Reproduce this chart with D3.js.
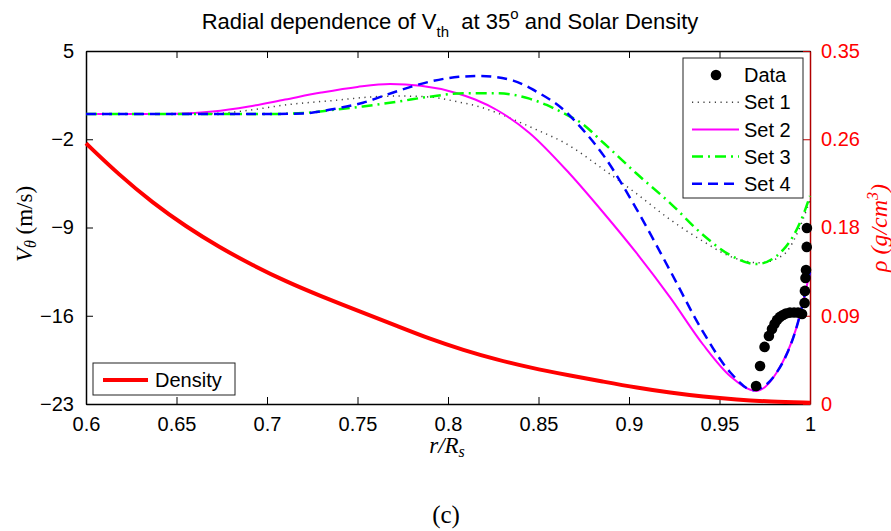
<!DOCTYPE html>
<html>
<head>
<meta charset="utf-8">
<script src="https://cdn.jsdelivr.net/npm/d3@7/dist/d3.min.js"></script>
<style>
  body { margin: 0; background: #fff; }
  svg { display: block; }
  .tick-label { font-family: 'Liberation Sans', Arial, sans-serif; font-size: 20px; }
</style>
</head>
<body>
<div id="chart"></div>
<script>
// r / R_s vs V_theta (m/s)
var set1 = [[0.60, 0.0], [0.64, 0.0], [0.67, 0.03], [0.69, 0.3], [0.71, 0.72], [0.74, 1.12], [0.755, 1.33],
            [0.772, 1.43], [0.79, 1.35], [0.805, 0.98], [0.818, 0.55], [0.827, 0.1], [0.838, -0.55],
            [0.849, -1.25], [0.864, -2.25], [0.886, -4.4], [0.904, -6.3], [0.923, -8.4], [0.941, -10.1],
            [0.956, -11.3], [0.972, -11.8], [0.985, -11.2], [0.996, -8.4], [1.0, -6.8]];
var set2 = [[0.60, 0.0], [0.64, 0.0], [0.65, 0.02], [0.67, 0.2], [0.69, 0.6], [0.71, 1.15], [0.73, 1.7],
            [0.75, 2.15], [0.768, 2.38], [0.785, 2.24], [0.805, 1.65], [0.815, 1.15], [0.827, 0.32],
            [0.845, -1.5], [0.867, -4.7], [0.886, -7.85], [0.904, -11.0], [0.923, -14.6], [0.941, -18.3],
            [0.956, -20.8], [0.9705, -21.96], [0.9816, -20.5], [0.9926, -16.9], [1.0, -12.5]];
var set3 = [[0.60, 0.0], [0.70, 0.0], [0.72, 0.08], [0.738, 0.35], [0.753, 0.6], [0.772, 0.98],
            [0.79, 1.38], [0.8085, 1.65], [0.827, 1.65], [0.845, 1.22], [0.8545, 0.72], [0.8637, 0.08],
            [0.873, -0.65], [0.886, -2.3], [0.904, -4.7], [0.923, -7.1], [0.941, -9.6], [0.956, -11.2],
            [0.9705, -11.9], [0.985, -10.8], [0.996, -8.1], [1.0, -6.5]];
var set4 = [[0.60, 0.0], [0.70, 0.0], [0.72, 0.05], [0.737, 0.4], [0.753, 0.9], [0.771, 1.77],
            [0.79, 2.57], [0.806, 2.95], [0.8177, 3.02], [0.836, 2.65], [0.849, 1.77], [0.864, 0.32],
            [0.873, -1.0], [0.886, -3.3], [0.904, -7.5], [0.923, -12.5], [0.941, -17.3], [0.956, -20.5],
            [0.9685, -21.9], [0.9816, -20.5], [0.9926, -16.9], [1.0, -12.5]];
var dataPts = [[0.9702, -21.57], [0.9724, -19.98], [0.9749, -18.47], [0.9773, -17.6], [0.979, -17.05],
               [0.9804, -16.65], [0.9818, -16.33], [0.9834, -16.09], [0.9851, -15.94], [0.9867, -15.82],
               [0.9889, -15.75], [0.9912, -15.74], [0.9934, -15.75], [0.9956, -15.86], [0.997, -14.98],
               [0.9972, -14.03], [0.9975, -13.0], [0.9978, -12.37], [0.9982, -10.54], [0.9983, -9.04]];
// r / R_s vs solar density (g/cm^3)
var density = [[0.6, 0.2585], [0.6184, 0.227], [0.6368, 0.1995], [0.6552, 0.176], [0.6736, 0.1555],
               [0.6921, 0.1375], [0.7105, 0.1215], [0.7289, 0.1075], [0.7532, 0.0905], [0.7717, 0.0775],
               [0.7901, 0.0645], [0.8085, 0.0535], [0.8269, 0.044], [0.8453, 0.036], [0.8674, 0.0283],
               [0.8858, 0.0222], [0.9043, 0.0162], [0.9227, 0.0112], [0.9411, 0.0072], [0.9595, 0.0043],
               [0.9779, 0.0023], [1.0, 0.0012]];

var xTicks = [0.6, 0.65, 0.7, 0.75, 0.8, 0.85, 0.9, 0.95, 1];
var xTickLabels = ['0.6', '0.65', '0.7', '0.75', '0.8', '0.85', '0.9', '0.95', '1'];
var yTicks = [5, -2, -9, -16, -23];
var rhoTicks = [0, 0.0875, 0.175, 0.2625, 0.35];
var rhoTickLabels = ['0', '0.09', '0.18', '0.26', '0.35'];
var legendNames = ['Data', 'Set 1', 'Set 2', 'Set 3', 'Set 4'];

var margin = {top: 51, right: 81, bottom: 127, left: 86},
    width = 891 - margin.left - margin.right,
    height = 531 - margin.top - margin.bottom;

var svg = d3.select('#chart').append('svg')
    .attr('width', 891)
    .attr('height', 531);

var wrapper = svg.append('g')
    .attr('transform', 'translate(' + margin.left + ',' + margin.top + ')');

var xScale = d3.scaleLinear().domain([0.6, 1]).range([0, width]),
    yScale = d3.scaleLinear().domain([-23, 5]).range([height, 0]),
    rhoScale = d3.scaleLinear().domain([0, 0.35]).range([height, 0]);

var minus = function(v) { return String(v).replace('-', '\u2212'); };
var tickLen = 7;

// axes (MATLAB style: ticks pointing inside)
var xAxis = wrapper.append('g')
    .attr('transform', 'translate(0,' + height + ')')
    .call(d3.axisBottom(xScale).tickValues(xTicks).tickSizeInner(-tickLen).tickSizeOuter(0)
      .tickPadding(tickLen + 6).tickFormat(function(d, i) { return xTickLabels[i]; }));
xAxis.selectAll('text').attr('class', 'tick-label').attr('fill', '#000');

wrapper.append('g')
    .call(d3.axisTop(xScale).tickValues(xTicks).tickSizeInner(-tickLen).tickSizeOuter(0).tickFormat(''));

var yAxis = wrapper.append('g')
    .call(d3.axisLeft(yScale).tickValues(yTicks).tickSizeInner(-tickLen).tickSizeOuter(0)
      .tickPadding(tickLen + 5).tickFormat(minus));
yAxis.selectAll('text').attr('class', 'tick-label').attr('fill', '#000');

var rAxis = wrapper.append('g')
    .attr('transform', 'translate(' + width + ',0)')
    .call(d3.axisRight(rhoScale).tickValues(rhoTicks).tickSizeInner(-tickLen).tickSizeOuter(0)
      .tickPadding(tickLen + 4).tickFormat(function(d, i) { return rhoTickLabels[i]; }));
rAxis.selectAll('text').attr('class', 'tick-label').attr('fill', '#ff0000');
rAxis.selectAll('line').attr('stroke', '#c00000');
rAxis.select('.domain').attr('stroke', '#b00000').attr('stroke-width', 1.5);

svg.selectAll('.domain').filter(function() { return d3.select(this).attr('stroke') === 'currentColor'; })
    .attr('stroke', '#000').attr('stroke-width', 1.5);

var line = d3.line()
    .x(function(d) { return xScale(d[0]); })
    .y(function(d) { return yScale(d[1]); })
    .curve(d3.curveMonotoneX);

var rhoLine = d3.line()
    .x(function(d) { return xScale(d[0]); })
    .y(function(d) { return rhoScale(d[1]); })
    .curve(d3.curveBasis);

var styles = [
  {data: set1, color: '#000', width: 1.5, dash: '1.2,4.5', opacity: 0.75},
  {data: set2, color: '#ff00ff', width: 2, dash: null, opacity: 1},
  {data: set3, color: '#00ff00', width: 2.5, dash: '11,5,2,5', opacity: 1},
  {data: set4, color: '#0000ff', width: 2.5, dash: '10,6', opacity: 1}
];

var plot = wrapper.append('g');

plot.append('path')
    .attr('d', rhoLine(density))
    .attr('fill', 'none')
    .attr('stroke', '#ff0000')
    .attr('stroke-width', 4);

styles.forEach(function(s) {
  plot.append('path')
      .attr('d', line(s.data))
      .attr('fill', 'none')
      .attr('stroke', s.color)
      .attr('stroke-width', s.width)
      .attr('stroke-dasharray', s.dash)
      .attr('stroke-opacity', s.opacity);
});

plot.selectAll('.dot')
    .data(dataPts)
  .enter().append('circle')
    .attr('class', 'dot')
    .attr('r', 5.3)
    .attr('cx', function(d) { return xScale(d[0]); })
    .attr('cy', function(d) { return yScale(d[1]); })
    .attr('fill', '#000');

// Legend, top right
var legend = svg.append('g').attr('transform', 'translate(683,58)');
legend.append('rect')
    .attr('width', 120).attr('height', 140)
    .attr('fill', '#fff').attr('stroke', '#222').attr('stroke-width', 1);

legendNames.forEach(function(name, i) {
  var y = 17 + i * 27.2;
  if (i === 0) {
    legend.append('circle').attr('cx', 33).attr('cy', y).attr('r', 5.3).attr('fill', '#000');
  } else {
    var s = styles[i - 1];
    legend.append('line')
        .attr('x1', 9).attr('x2', 56).attr('y1', y).attr('y2', y)
        .attr('stroke', s.color).attr('stroke-width', s.width)
        .attr('stroke-dasharray', s.dash).attr('stroke-opacity', s.opacity);
  }
  legend.append('text')
      .attr('class', 'tick-label')
      .attr('x', 61).attr('y', y).attr('dy', '0.36em')
      .text(name);
});

// Legend, bottom left
var legend2 = svg.append('g').attr('transform', 'translate(93,363)');
legend2.append('rect')
    .attr('width', 142).attr('height', 32)
    .attr('fill', '#fff').attr('stroke', '#222').attr('stroke-width', 1);
legend2.append('line')
    .attr('x1', 10).attr('x2', 55).attr('y1', 17).attr('y2', 17)
    .attr('stroke', '#ff0000').attr('stroke-width', 4);
legend2.append('text')
    .attr('class', 'tick-label')
    .attr('x', 62).attr('y', 17).attr('dy', '0.36em')
    .text('Density');

// Title
var title = svg.append('text')
    .attr('x', 450).attr('y', 29)
    .attr('text-anchor', 'middle')
    .style('font-family', "'Liberation Sans', Arial, sans-serif")
    .style('font-size', '22px');
title.append('tspan').text('Radial dependence of V');
title.append('tspan').attr('dy', 8).style('font-size', '15px').text('th');
title.append('tspan').attr('dy', -8).text('\u00a0 at 35');
title.append('tspan').attr('dy', -10).style('font-size', '15px').text('o');
title.append('tspan').attr('dy', 10).text(' and Solar Density');

// Axis labels
var serif = "'Liberation Serif', 'DejaVu Serif', serif";
var yLabel = svg.append('text')
    .attr('transform', 'translate(32,224) rotate(-90)')
    .attr('text-anchor', 'middle')
    .style('font-family', serif)
    .style('font-size', '23px');
yLabel.append('tspan').style('font-style', 'italic').text('V');
yLabel.append('tspan').attr('dy', 4).style('font-style', 'italic').style('font-size', '16px').text('\u03b8');
yLabel.append('tspan').attr('dy', -4).text(' (m/s)');

var rLabel = svg.append('text')
    .attr('transform', 'translate(887,228) rotate(-90)')
    .attr('text-anchor', 'middle')
    .attr('fill', '#ff0000')
    .style('font-family', serif)
    .style('font-style', 'italic')
    .style('font-size', '24px');
rLabel.append('tspan').text('\u03c1 (g/cm');
rLabel.append('tspan').attr('dy', -9).style('font-size', '16px').text('3');
rLabel.append('tspan').attr('dy', 9).text(')');

var xLabel = svg.append('text')
    .attr('x', 447).attr('y', 453)
    .attr('text-anchor', 'middle')
    .style('font-family', serif)
    .style('font-style', 'italic')
    .style('font-size', '23px');
xLabel.append('tspan').text('r/R');
xLabel.append('tspan').attr('dy', 4).style('font-size', '16px').text('s');

svg.append('text')
    .attr('x', 446).attr('y', 523)
    .attr('text-anchor', 'middle')
    .style('font-family', serif)
    .style('font-size', '25px')
    .text('(c)');
</script>
</body>
</html>
